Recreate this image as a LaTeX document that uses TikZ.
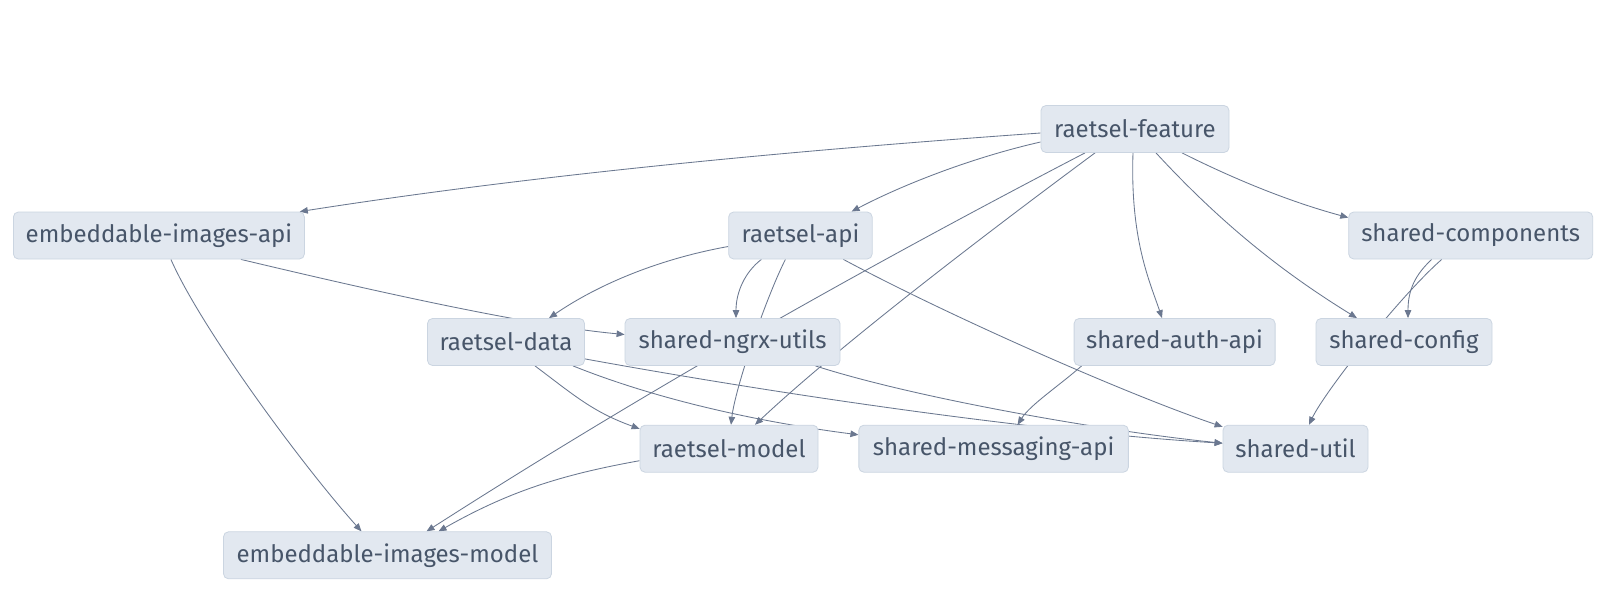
\documentclass[tikz,border=0pt]{standalone}
\usepackage{fontspec}
\setmainfont{Fira Sans}
\usetikzlibrary{arrows.meta,backgrounds}
\definecolor{nodefill}{HTML}{E2E8F0}
\definecolor{nodeline}{HTML}{CBD5E1}
\definecolor{nodetext}{HTML}{475569}
\definecolor{edgecol}{HTML}{6B7890}
\begin{document}
\begin{tikzpicture}[x=1pt,y=1pt,
  box/.style={draw=nodeline, line width=0.8pt, fill=nodefill, rounded corners=5pt,
    text=nodetext, font=\fontsize{24}{28}\selectfont, minimum height=47pt, inner sep=0pt},
  dep/.style={draw=edgecol, line width=0.85pt, -{Triangle[length=8pt,width=6.5pt]}}]
\useasboundingbox (0,0) rectangle (1607,-615);
% nodes
\node[box, minimum width=188pt]   (feature) at (1135,-129)   {raetsel-feature};
\node[box, minimum width=291pt]   (eia)     at (158.9,-235.5) {embeddable-images-api};
\node[box, minimum width=143.5pt] (rapi)    at (800.4,-235.5) {raetsel-api};
\node[box, minimum width=244pt]   (comps)   at (1470.7,-235.5) {shared-components};
\node[box, minimum width=157pt]   (rdata)   at (506,-342)    {raetsel-data};
\node[box, minimum width=215pt]   (ngrx)    at (732.5,-342)  {shared-ngrx-utils};
\node[box, minimum width=201pt]   (auth)    at (1174.6,-342) {shared-auth-api};
\node[box, minimum width=176pt]   (config)  at (1404,-342)   {shared-config};
\node[box, minimum width=178pt]   (model)   at (729,-448.7)  {raetsel-model};
\node[box, minimum width=269.5pt] (sma)     at (993.6,-448.7) {shared-messaging-api};
\node[box, minimum width=145pt]   (util)    at (1295.5,-448.7) {shared-util};
\node[box, minimum width=328pt]   (eim)     at (387.5,-555.3) {embeddable-images-model};
% edges
\begin{scope}[on background layer]
\fill[white] (0,0) rectangle (1607,-615);
\draw[dep] ([yshift=-4]feature.west) .. controls (800,-150) and (540,-174) .. ([xshift=-5]eia.north east);
\draw[dep] ([yshift=-13]feature.west) .. controls (970,-158) and (900,-186) .. ([xshift=-21]rapi.north east);
\draw[dep] ([xshift=-50]feature.south) .. controls (835,-283) and (627,-403) .. ([xshift=39]eim.north);
\draw[dep] ([xshift=-40]feature.south) .. controls (945,-264) and (825,-359) .. ([xshift=26]model.north);
\draw[dep] ([xshift=-2]feature.south) .. controls (1130,-240) and (1150,-282) .. ([xshift=-12.6]auth.north);
\draw[dep] ([xshift=21]feature.south) .. controls (1216,-218) and (1277,-269) .. ([xshift=-47]config.north);
\draw[dep] ([xshift=47]feature.south) .. controls (1232,-178) and (1287,-201) .. ([yshift=-6]comps.north west);
\draw[dep] ([xshift=12]eia.south) .. controls (201,-328) and (302,-465) .. ([xshift=-26]eim.north);
\draw[dep] ([xshift=82]eia.south) .. controls (361,-288) and (523,-325) .. ([yshift=7.5]ngrx.west);
\draw[dep] ([yshift=-11]rapi.west) .. controls (659,-259) and (599,-284) .. ([xshift=43]rdata.north);
\draw[dep] ([xshift=-39]rapi.south) .. controls (745,-272) and (736,-292) .. ([xshift=3.5]ngrx.north);
\draw[dep] ([xshift=-15]rapi.south) .. controls (765,-300) and (735,-389) .. ([xshift=2]model.north);
\draw[dep] ([xshift=43]rapi.south) .. controls (943,-313) and (1123,-393) .. ([yshift=-2]util.north west);
\draw[dep] ([xshift=29]rdata.south) .. controls (575,-396) and (593,-412) .. ([yshift=-4]model.north west);
\draw[dep] ([xshift=67]rdata.south) .. controls (663,-402) and (767,-423) .. ([yshift=-10]sma.north west);
\draw[dep] ([yshift=7]rdata.south east) .. controls (800,-398) and (1050,-433) .. ([yshift=5.5]util.west);
\draw[dep] ([xshift=-25]ngrx.south east) .. controls (915,-398) and (1103,-431) .. ([yshift=5.5]util.west);
\draw[dep] ([yshift=-12]model.west) .. controls (560,-475) and (508,-492) .. ([xshift=51]eim.north);
\draw[dep] ([xshift=-93]auth.south) .. controls (1060,-385) and (1030,-405) .. ([xshift=24]sma.north);
\draw[dep] ([xshift=-39]comps.south) .. controls (1415,-275) and (1408,-290) .. ([xshift=4]config.north);
\draw[dep] ([xshift=-29]comps.south) .. controls (1398,-298) and (1324,-393) .. ([xshift=13.5]util.north);
\end{scope}
\end{tikzpicture}
\end{document}
